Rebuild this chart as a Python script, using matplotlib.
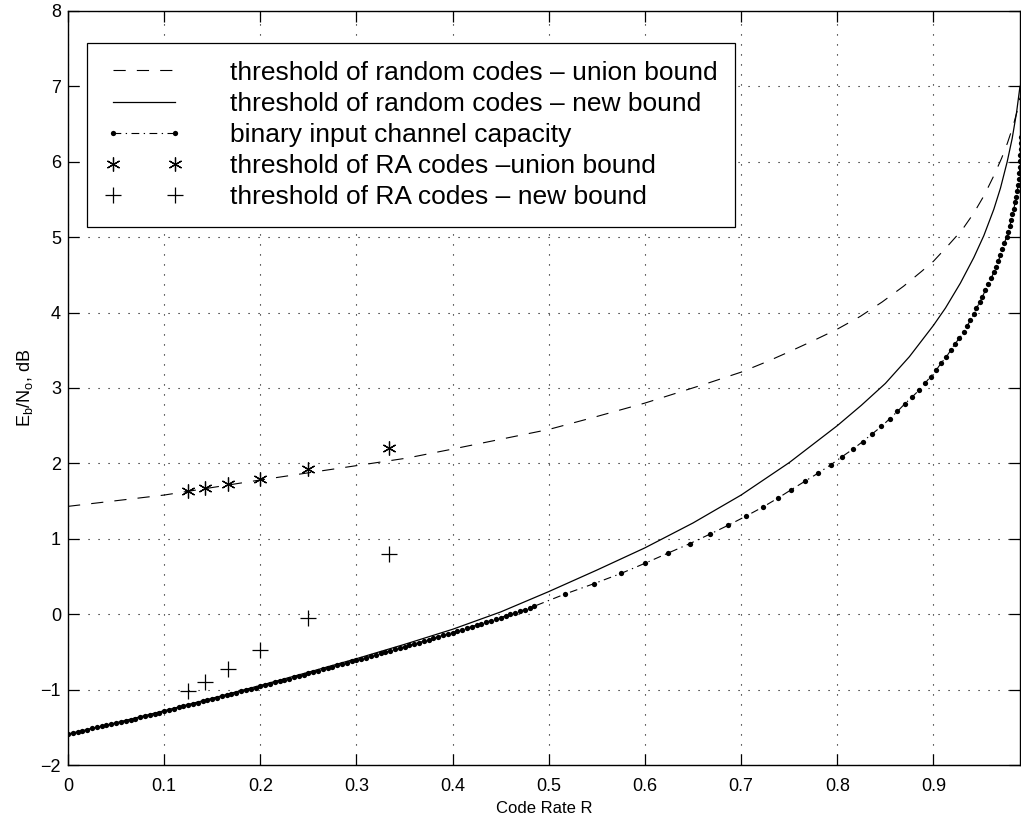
import numpy as np
import matplotlib
matplotlib.use('Agg')
import matplotlib.pyplot as plt

plt.rcParams['font.family'] = ['Liberation Sans', 'DejaVu Sans']
plt.rcParams['mathtext.fontset'] = 'custom'
plt.rcParams['mathtext.rm'] = 'Liberation Sans'
plt.rcParams['mathtext.it'] = 'Liberation Sans:italic'

# ---------------- data ----------------
union_rate = [0, 0.0333, 0.1, 0.2, 0.3, 0.3524, 0.4, 0.5, 0.5466, 0.6, 0.6645, 0.7,
              0.727, 0.75, 0.7755, 0.8, 0.824, 0.8466, 0.869, 0.888, 0.9, 0.916, 0.93,
              0.942, 0.953, 0.963, 0.971, 0.977, 0.983, 0.987, 0.99]
union_ebno = [1.43, 1.48, 1.58, 1.78, 1.97, 2.07, 2.19, 2.45, 2.61, 2.80, 3.06, 3.21,
              3.35, 3.48, 3.63, 3.78, 3.95, 4.14, 4.35, 4.55, 4.68, 4.90, 5.10,
              5.32, 5.56, 5.82, 6.05, 6.25, 6.48, 6.67, 6.85]

new_rate = [0, 0.05, 0.1, 0.15, 0.2, 0.25, 0.3, 0.35, 0.4, 0.45, 0.5, 0.55, 0.6, 0.65,
            0.7, 0.75, 0.8, 0.825, 0.85, 0.875, 0.9, 0.9125, 0.928, 0.942, 0.9524,
            0.9628, 0.9697, 0.9767, 0.9819, 0.9864, 0.99]
new_ebno = [-1.59, -1.44, -1.28, -1.115, -0.945, -0.77, -0.59, -0.40, -0.20, 0.03, 0.30,
            0.585, 0.88, 1.21, 1.58, 2.01, 2.50, 2.77, 3.06, 3.415, 3.83, 4.06, 4.39,
            4.73, 5.02, 5.37, 5.65, 6.00, 6.31, 6.65, 7.0]

cap_rate_low = [0.000, 0.005, 0.010, 0.015, 0.020, 0.025, 0.030, 0.035, 0.040, 0.045,
                0.050, 0.055, 0.060, 0.065, 0.070, 0.075, 0.080, 0.085, 0.090, 0.095,
                0.100, 0.105, 0.110, 0.115, 0.120, 0.125, 0.130, 0.135, 0.140, 0.145,
                0.150, 0.155, 0.160, 0.165, 0.170, 0.175, 0.180, 0.185, 0.190, 0.195,
                0.200, 0.205, 0.210, 0.215, 0.220, 0.225, 0.230, 0.235, 0.240, 0.245,
                0.250, 0.255, 0.260, 0.265, 0.270, 0.275, 0.280, 0.285, 0.290, 0.295,
                0.300, 0.305, 0.310, 0.315, 0.320, 0.325, 0.330, 0.335, 0.340, 0.345,
                0.350, 0.355, 0.360, 0.365, 0.370, 0.375, 0.380, 0.385, 0.390, 0.395,
                0.400, 0.405, 0.410, 0.415, 0.420, 0.425, 0.430, 0.435, 0.440, 0.445,
                0.450, 0.455, 0.460, 0.465, 0.470, 0.475, 0.480, 0.485]
cap_ebno_low = [-1.590, -1.575, -1.560, -1.545, -1.530, -1.515, -1.500, -1.485, -1.470, -1.456,
                -1.442, -1.428, -1.413, -1.399, -1.384, -1.369, -1.354, -1.339, -1.323, -1.305,
                -1.286, -1.270, -1.253, -1.237, -1.221, -1.205, -1.189, -1.173, -1.156, -1.140,
                -1.123, -1.107, -1.090, -1.074, -1.057, -1.041, -1.024, -1.007, -0.990, -0.973,
                -0.956, -0.939, -0.922, -0.905, -0.888, -0.871, -0.853, -0.836, -0.819, -0.802,
                -0.784, -0.767, -0.749, -0.732, -0.714, -0.696, -0.678, -0.660, -0.642, -0.626,
                -0.610, -0.593, -0.575, -0.557, -0.539, -0.521, -0.503, -0.485, -0.467, -0.449,
                -0.431, -0.413, -0.395, -0.376, -0.357, -0.338, -0.319, -0.300, -0.281, -0.262,
                -0.243, -0.224, -0.204, -0.184, -0.164, -0.144, -0.124, -0.104, -0.084, -0.064,
                -0.044, -0.023, -0.002, 0.019, 0.040, 0.062, 0.084, 0.106]
cap_rate_high = [0.517, 0.547, 0.575, 0.600, 0.6236, 0.6465, 0.6673, 0.6867, 0.705, 0.7225,
                 0.7384, 0.752, 0.766, 0.780, 0.793, 0.805, 0.8164, 0.8265, 0.8365, 0.8459,
                 0.8546, 0.8626, 0.8702, 0.8778, 0.885, 0.891, 0.897, 0.903, 0.908, 0.9135,
                 0.918, 0.922, 0.927, 0.9316, 0.935, 0.9385, 0.942, 0.9447, 0.9482, 0.951,
                 0.9541, 0.9572, 0.960, 0.9628, 0.9655, 0.9676, 0.9697, 0.9718, 0.9739, 0.976,
                 0.9777, 0.9794, 0.9809, 0.9822, 0.9836, 0.985, 0.9861, 0.9871, 0.9881, 0.9888,
                 0.9895, 0.9899, 0.9902, 0.9905, 0.9908, 0.991, 0.9912]
cap_ebno_high = [0.268, 0.405, 0.540, 0.675, 0.808, 0.935, 1.060, 1.180, 1.300, 1.420,
                 1.540, 1.650, 1.760, 1.870, 1.979, 2.089, 2.19, 2.29, 2.394, 2.49,
                 2.593, 2.69, 2.79, 2.88, 2.97, 3.06, 3.15, 3.24, 3.33, 3.415,
                 3.50, 3.58, 3.66, 3.74, 3.82, 3.90, 3.98, 4.057, 4.137, 4.21,
                 4.30, 4.38, 4.455, 4.535, 4.61, 4.684, 4.764, 4.84, 4.92, 5.00,
                 5.07, 5.15, 5.23, 5.31, 5.38, 5.46, 5.537, 5.61, 5.69, 5.77,
                 5.85, 5.93, 6.01, 6.09, 6.17, 6.25, 6.33]

ra_rate = [1/8, 1/7, 1/6, 1/5, 1/4, 1/3]
ra_union_ebno = [1.634, 1.67, 1.727, 1.79, 1.926, 2.20]
ra_new_ebno = [-1.019, -0.904, -0.73, -0.475, -0.056, 0.80]

labels = ['threshold of random codes \u2013 union bound',
          'threshold of random codes \u2013 new bound',
          'binary input channel capacity',
          'threshold of RA codes \u2013union bound',
          'threshold of RA codes \u2013 new bound']

x_ticks = [0, 0.1, 0.2, 0.3, 0.4, 0.5, 0.6, 0.7, 0.8, 0.9]
x_ticklabels = ['0', '0.1', '0.2', '0.3', '0.4', '0.5', '0.6', '0.7', '0.8', '0.9']
y_ticks = [-2, -1, 0, 1, 2, 3, 4, 5, 6, 7, 8]
y_ticklabels = ['\u22122', '\u22121', '0', '1', '2', '3', '4', '5', '6', '7', '8']

# ---------------- figure ----------------
fig = plt.figure(figsize=(10.21, 8.24), dpi=100)
ax = fig.add_axes([0.0666, 0.0716, 0.9324, 0.9151])

cap_rate = cap_rate_low + cap_rate_high
cap_ebno = cap_ebno_low + cap_ebno_high

ax.plot(union_rate, union_ebno, color='black', lw=0.8, dashes=(11, 10), label=labels[0])
ax.plot(new_rate, new_ebno, color='black', lw=0.9, label=labels[1])
ax.plot(cap_rate, cap_ebno, color='black', lw=0.8, dashes=(7, 4, 1.2, 4),
        marker='o', ms=3.8, mfc='black', mec='black', mew=0, label=labels[2])
ax.plot(ra_rate, ra_union_ebno, ls='none', marker=(6, 2, 0), ms=10, mec='black',
        mew=0.9, color='black', label=labels[3])
ax.plot(ra_rate, ra_new_ebno, ls='none', marker='+', ms=12, mec='black',
        mew=0.9, color='black', label=labels[4])

ax.set_xlim(0, 0.99)
ax.set_ylim(-2, 8)
ax.set_xticks(x_ticks)
ax.set_xticklabels(x_ticklabels)
ax.set_yticks(y_ticks)
ax.set_yticklabels(y_ticklabels)
ax.tick_params(direction='in', length=8, width=0.9, top=True, right=True,
               labelsize=13, colors='black')
ax.tick_params(axis='x', pad=9.5)
ax.tick_params(axis='y', pad=5)
ax.grid(True, color='black', lw=0.8, ls=(0, (1, 8)))
for s in ax.spines.values():
    s.set_linewidth(1.0)

ax.set_xlabel('Code Rate R', fontsize=12, labelpad=4)
ax.set_ylabel(r'E$_\mathrm{b}$/N$_\mathrm{o}$, dB', fontsize=13, labelpad=4)

leg = ax.legend(loc='upper left', bbox_to_anchor=(0.02, 0.9576),
                borderaxespad=0, numpoints=2, fontsize=19,
                handlelength=2.95, handletextpad=1.8, labelspacing=0.27,
                borderpad=0.67, fancybox=False, framealpha=1, edgecolor='black')
leg.get_frame().set_linewidth(0.9)

fig.savefig('out.png', dpi=100)
